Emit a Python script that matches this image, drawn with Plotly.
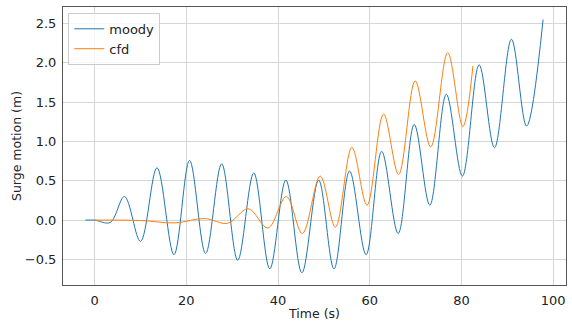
import plotly.graph_objects as go

# moody: key points (time, surge)
moody_t = [-2, 0, 3.4, 6.5, 10.0, 13.6, 17.3, 20.7, 24.2, 27.7, 31.2, 34.7, 38.2, 41.7,
           45.2, 48.85, 52.2, 55.6, 59.2, 62.6, 66.2, 69.7, 73.1, 76.7, 80.2, 83.85,
           87.2, 90.9, 94.2, 97.8]
moody_y = [0, 0, -0.03, 0.30, -0.27, 0.666, -0.44, 0.76, -0.425, 0.716, -0.51, 0.60,
           -0.62, 0.51, -0.67, 0.51, -0.62, 0.625, -0.44, 0.875, -0.17, 1.216, 0.19,
           1.60, 0.56, 1.975, 0.92, 2.30, 1.195, 2.55]

cfd_t = [0, 10, 17.5, 24, 29, 33.5, 37.8, 41.8, 45.3, 49.2, 52.5, 56.1, 59.4, 63.0,
         66.3, 69.9, 73.3, 77.0, 80.3, 82.5]
cfd_y = [0, -0.005, -0.035, 0.02, -0.04, 0.145, -0.1, 0.30, -0.17, 0.56, -0.09, 0.925,
         0.19, 1.35, 0.58, 1.77, 0.93, 2.13, 1.19, 1.96]

x_ticks = [0, 20, 40, 60, 80, 100]
y_ticks = [-0.5, 0.0, 0.5, 1.0, 1.5, 2.0, 2.5]

FONT = "DejaVu Sans"

fig = go.Figure()
fig.add_trace(go.Scatter(x=moody_t, y=moody_y, mode="lines", name="moody",
                         line=dict(color="#1f77b4", width=1, shape="spline", smoothing=1.0)))
fig.add_trace(go.Scatter(x=cfd_t, y=cfd_y, mode="lines", name="cfd",
                         line=dict(color="#ff7f0e", width=1, shape="spline", smoothing=1.0)))

axis_common = dict(showline=True, linecolor="#555", linewidth=1, mirror=True,
                   showgrid=True, gridcolor="#d6d6d6", gridwidth=1,
                   ticks="", zeroline=False,
                   tickfont=dict(family=FONT, size=13, color="#222"))

fig.update_layout(
    width=572, height=323,
    margin=dict(l=63, r=5, t=7, b=34),
    paper_bgcolor="white", plot_bgcolor="white",
    font=dict(family=FONT, size=12.5, color="#222"),
    showlegend=True,
    legend=dict(x=0.0105, y=0.979, xanchor="left", yanchor="top",
                bgcolor="rgba(255,255,255,0.8)", bordercolor="#ccc", borderwidth=1,
                font=dict(family=FONT, size=13), tracegroupgap=0,
                itemwidth=30),
    xaxis=dict(range=[-6.9, 102.8], tickvals=x_ticks, ticklabelstandoff=3,
               title=dict(text="Time (s)", standoff=2, font=dict(family=FONT, size=12.5)),
               **axis_common),
    yaxis=dict(range=[-0.825, 2.71], tickvals=y_ticks, tickformat=".1f", ticklabelstandoff=3,
               title=dict(text="Surge motion (m)", standoff=0, font=dict(family=FONT, size=12.5)),
               **axis_common),
)

fig.write_html("out.html")
